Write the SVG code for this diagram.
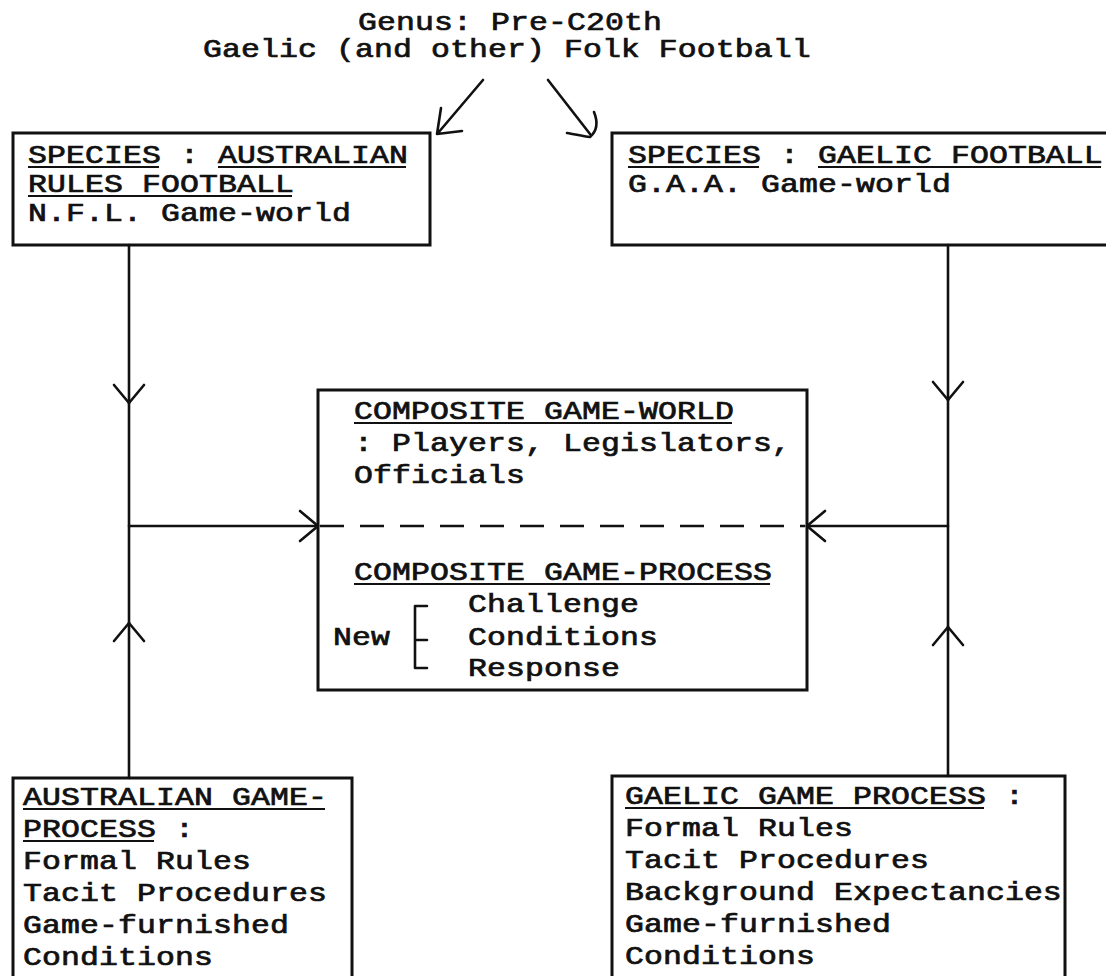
<svg xmlns="http://www.w3.org/2000/svg" width="1106" height="976" viewBox="0 0 1106 976">
  <style>
    .t { font-family: "Liberation Mono", "Courier New", monospace; font-size: 25px; letter-spacing: 0.08px; fill: #111; stroke: #111; stroke-width: 0.7px; }
    .box { fill: none; stroke: #111; stroke-width: 3; stroke-linejoin: miter; }
    .ul { stroke: #111; stroke-width: 1.8; fill: none; }
    .ln { stroke: #111; stroke-width: 2.6; fill: none; stroke-linecap: round; stroke-linejoin: round; }
    .dash { stroke: #111; stroke-width: 2.6; stroke-dasharray: 24 16; fill: none; }
  </style>
  <defs>
    <marker id="chev" markerUnits="userSpaceOnUse" viewBox="0 0 22 34" refX="20" refY="17" markerWidth="22" markerHeight="34" orient="auto">
      <path d="M2,2 L20,17 L2,32" fill="none" stroke="#111" stroke-width="2.6" stroke-linecap="round" stroke-linejoin="round"/>
    </marker>
  </defs>
  <rect width="1106" height="976" fill="#fff"/>

  <!-- genus heading -->
  <g id="genus">
    <g transform="translate(358,0) scale(1.26,1)"><text class="t" x="0" y="30">Genus: Pre-C20th</text></g>
    <g transform="translate(203,0) scale(1.26,1)"><text class="t" x="0" y="57">Gaelic (and other) Folk Football</text></g>
  </g>

  <!-- species: australian rules -->
  <g id="species-aus">
    <rect class="box" x="13" y="133" width="417" height="112"/>
    <g transform="translate(28,0) scale(1.26,1)">
      <text class="t" x="0" y="163">SPECIES : AUSTRALIAN</text>
      <text class="t" x="0" y="192">RULES FOOTBALL</text>
      <text class="t" x="0" y="221">N.F.L. Game-world</text>
    </g>
    <path class="ul" d="M28,167 H159 M218,167 H406 M28,196 H292"/>
  </g>

  <!-- species: gaelic football -->
  <g id="species-gaelic">
    <rect class="box" x="612" y="133" width="520" height="112"/>
    <g transform="translate(628,0) scale(1.26,1)">
      <text class="t" x="0" y="163">SPECIES : GAELIC FOOTBALL</text>
      <text class="t" x="0" y="192">G.A.A. Game-world</text>
    </g>
    <path class="ul" d="M628,167 H759 M818,167 H1101"/>
  </g>

  <!-- composite game-world / game-process -->
  <g id="composite">
    <rect class="box" x="318" y="390" width="489" height="300"/>
    <line class="dash" x1="320" y1="526" x2="805" y2="526"/>
    <g transform="translate(354,0) scale(1.26,1)">
      <text class="t" x="0" y="419">COMPOSITE GAME-WORLD</text>
      <text class="t" x="0" y="451">: Players, Legislators,</text>
      <text class="t" x="0" y="483">Officials</text>
      <text class="t" x="0" y="580">COMPOSITE GAME-PROCESS</text>
    </g>
    <path class="ul" d="M354,423 H732 M354,584 H770"/>
    <g transform="translate(333,0) scale(1.26,1)"><text class="t" x="0" y="645">New</text></g>
    <path class="ln" d="M427,606 H415 V668 H427 M415,640 H427"/>
    <g transform="translate(468,0) scale(1.26,1)">
      <text class="t" x="0" y="612">Challenge</text>
      <text class="t" x="0" y="645">Conditions</text>
      <text class="t" x="0" y="676">Response</text>
    </g>
  </g>

  <!-- australian game-process -->
  <g id="process-aus">
    <rect class="box" x="13" y="778" width="339" height="240"/>
    <g transform="translate(23,0) scale(1.26,1)">
      <text class="t" x="0" y="805">AUSTRALIAN GAME-</text>
      <text class="t" x="0" y="837">PROCESS :</text>
      <text class="t" x="0" y="869">Formal Rules</text>
      <text class="t" x="0" y="901">Tacit Procedures</text>
      <text class="t" x="0" y="933">Game-furnished</text>
      <text class="t" x="0" y="965">Conditions</text>
    </g>
    <path class="ul" d="M23,809 H325 M23,841 H154"/>
  </g>

  <!-- gaelic game process -->
  <g id="process-gaelic">
    <rect class="box" x="612" y="776" width="453" height="240"/>
    <g transform="translate(625,0) scale(1.26,1)">
      <text class="t" x="0" y="804">GAELIC GAME PROCESS :</text>
      <text class="t" x="0" y="836">Formal Rules</text>
      <text class="t" x="0" y="868">Tacit Procedures</text>
      <text class="t" x="0" y="900">Background Expectancies</text>
      <text class="t" x="0" y="932">Game-furnished</text>
      <text class="t" x="0" y="964">Conditions</text>
    </g>
    <path class="ul" d="M625,808 H984"/>
  </g>

  <!-- connectors -->
  <g id="connectors">
    <!-- genus splits into the two species -->
    <path class="ln" d="M483,80 L438,133 M441,108 L437,134 L462,131"/>
    <path class="ln" d="M548,80 L590,134 M594,112 C598,122 597,131 590,137 C582,136 574,134 567,133"/>
    <!-- left column -->
    <path class="ln" d="M129,245 V403" marker-end="url(#chev)"/>
    <path class="ln" d="M129,403 V623"/>
    <path class="ln" d="M129,778 V623" marker-end="url(#chev)"/>
    <path class="ln" d="M129,526 H318" marker-end="url(#chev)"/>
    <!-- right column -->
    <path class="ln" d="M948,245 V400" marker-end="url(#chev)"/>
    <path class="ln" d="M948,400 V627"/>
    <path class="ln" d="M948,776 V627" marker-end="url(#chev)"/>
    <path class="ln" d="M948,526 H807" marker-end="url(#chev)"/>
  </g>
</svg>
